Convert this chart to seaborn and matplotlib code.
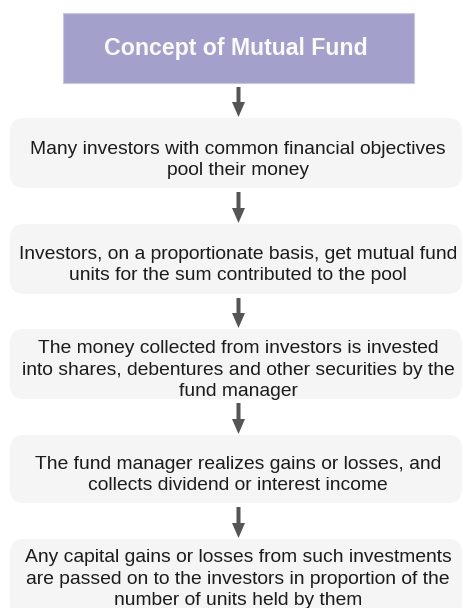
import matplotlib.pyplot as plt
import seaborn as sns
from matplotlib.patches import FancyBboxPatch, FancyArrow

title = "Concept of Mutual Fund"
steps = [
    "Many investors with common financial objectives\npool their money",
    "Investors, on a proportionate basis, get mutual fund\nunits for the sum contributed to the pool",
    "The money collected from investors is invested\ninto shares, debentures and other securities by the\nfund manager",
    "The fund manager realizes gains or losses, and\ncollects dividend or interest income",
    "Any capital gains or losses from such investments\nare passed on to the investors in proportion of the\nnumber of units held by them",
]
# box top / bottom and baseline of the last text line, in pixels
box_top = [118, 224, 329, 435, 539]
box_bottom = [188, 294, 399, 503, 618]
last_baseline = [175, 280, 396, 490, 605]

sns.set_style("white")
plt.rcParams["font.family"] = ["Liberation Sans", "DejaVu Sans"]

fig = plt.figure(figsize=(4.64, 6.08), dpi=100)
ax = fig.add_axes([0, 0, 1, 1])
ax.set_xlim(0, 464)
ax.set_ylim(608, 0)
ax.axis("off")

# title box
ax.add_patch(plt.Rectangle((63, 13), 351, 70, facecolor="#a3a0cb", edgecolor="#c8c6e0", lw=0.8))
ax.text(236, 55, title, ha="center", va="baseline", color="#fafafa",
        fontsize=16.7, fontweight="bold")

prev_bottom = 83
for txt, t, b, y0 in zip(steps, box_top, box_bottom, last_baseline):
    ax.add_patch(FancyBboxPatch((10 + 14, t + 14), 452 - 28, (b - t) - 28,
                                boxstyle="round,pad=14", facecolor="#f5f5f5",
                                edgecolor="none"))
    ax.text(238, y0, txt, ha="center", va="baseline",
            color="#1c1c1c", fontsize=13.9, linespacing=1.34)
    ax.add_patch(FancyArrow(238.5, prev_bottom + 4, 0, (t - 1) - (prev_bottom + 4),
                            width=4, head_width=13, head_length=15,
                            length_includes_head=True, color="#555555", lw=0))
    prev_bottom = b

fig.savefig("out.png", dpi=100)
